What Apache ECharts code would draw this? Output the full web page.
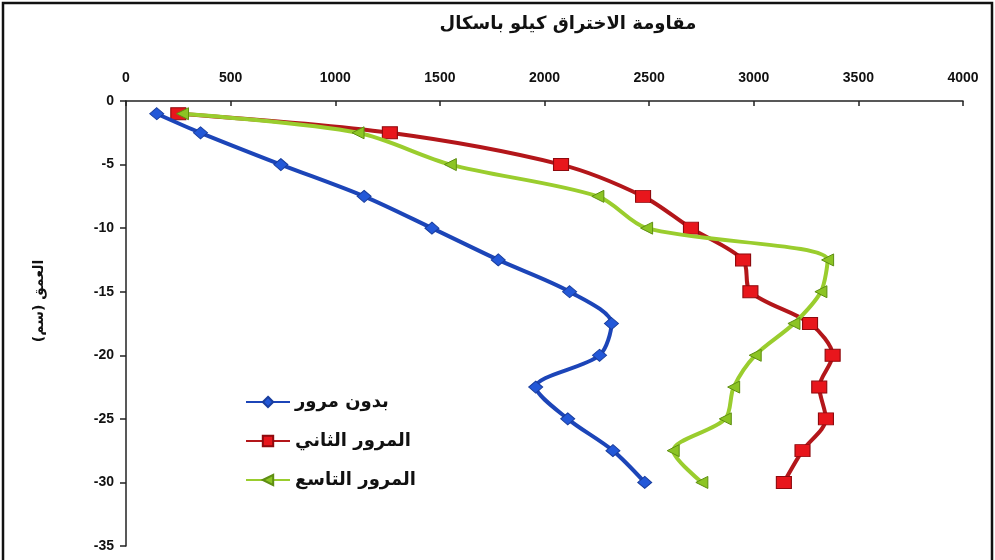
<!DOCTYPE html>
<html>
<head>
<meta charset="utf-8">
<script src="https://cdn.jsdelivr.net/npm/echarts@6/dist/echarts.min.js"></script>
<style>
  html, body { margin: 0; padding: 0; background: #fff; }
  #chart { width: 995px; height: 560px; }
</style>
</head>
<body>
<div id="chart"></div>
<script>
// Depth (cm), shared by all three series
const depths = [-1, -2.5, -5, -7.5, -10, -12.5, -15, -17.5, -20, -22.5, -25, -27.5, -30];

// Penetration resistance (kPa) for each traffic condition
const noTraffic   = [147, 356, 740, 1138, 1462, 1779, 2120, 2320, 2263, 1958, 2111, 2327, 2479];
const secondPass  = [250, 1261, 2079, 2471, 2700, 2949, 2984, 3269, 3377, 3313, 3345, 3233, 3144];
const ninthPass   = [270, 1109, 1550, 2255, 2488, 3353, 3321, 3192, 3007, 2904, 2864, 2615, 2752];

const seriesNames = ['بدون مرور', 'المرور الثاني', 'المرور التاسع'];
const titleText = 'مقاومة الاختراق كيلو باسكال';
const yAxisTitle = 'العمق (سم)';

const pairs = (xs) => xs.map((v, i) => [v, depths[i]]);

const chart = echarts.init(document.getElementById('chart'), null, { renderer: 'canvas' });

const font = 'Liberation Sans, Arial, sans-serif';
const arabicFont = 'DejaVu Sans, Noto Sans, sans-serif';

chart.setOption({
  backgroundColor: '#ffffff',
  animation: false,
  graphic: [
    {
      type: 'rect',
      shape: { x: 3, y: 3, width: 989, height: 600 },
      style: { fill: 'none', stroke: '#111', lineWidth: 2.5 },
      silent: true
    },
    {
      type: 'text',
      x: 568, y: 15,
      style: {
        text: titleText,
        font: 'bold 18px ' + arabicFont, fill: '#111', align: 'center'
      }
    }
  ],
  grid: { left: 126, right: 32, top: 101, bottom: 14, containLabel: false, outerBoundsMode: 'none' },
  legend: {
    orient: 'vertical',
    left: 240,
    top: 388,
    itemWidth: 44,
    itemHeight: 13,
    itemGap: 21,
    textStyle: { fontFamily: arabicFont, fontWeight: 'bold', fontSize: 18, color: '#111' },
    data: seriesNames
  },
  xAxis: {
    type: 'value',
    position: 'top',
    min: 0, max: 4000, interval: 500,
    axisLine: { show: true, lineStyle: { color: '#222', width: 1.5 } },
    axisTick: { show: true, inside: true, length: 5, lineStyle: { color: '#222', width: 1.5 } },
    axisLabel: {
      margin: 16, fontFamily: font, fontWeight: 'bold', fontSize: 14, color: '#111',
      formatter: (v) => String(v)
    },
    splitLine: { show: false }
  },
  yAxis: {
    type: 'value',
    min: -35, max: 0, interval: 5,
    name: yAxisTitle,
    nameLocation: 'middle',
    nameRotate: 90,
    nameGap: 80,
    nameTextStyle: { fontFamily: arabicFont, fontWeight: 'bold', fontSize: 14, color: '#111', padding: [0, 0, 0, 45] },
    axisLine: { show: true, onZero: false, lineStyle: { color: '#222', width: 1.5 } },
    axisTick: { show: true, length: 6, lineStyle: { color: '#222', width: 1.5 } },
    axisLabel: { margin: 12, fontFamily: font, fontWeight: 'bold', fontSize: 14, color: '#111' },
    splitLine: { show: false }
  },
  series: [
    {
      name: seriesNames[0],
      type: 'line',
      data: pairs(noTraffic),
      smooth: 0.3,
      symbol: 'diamond',
      symbolSize: [14, 12],
      lineStyle: { color: '#1C45B8', width: 4 },
      itemStyle: { color: '#2358D8', borderColor: '#1A3E9E', borderWidth: 1 },
      z: 3
    },
    {
      name: seriesNames[1],
      type: 'line',
      data: pairs(secondPass),
      smooth: 0.3,
      symbol: 'rect',
      symbolSize: [15, 12],
      lineStyle: { color: '#B3161A', width: 4 },
      itemStyle: { color: '#E8161C', borderColor: '#8E0A0E', borderWidth: 1 },
      z: 2
    },
    {
      name: seriesNames[2],
      type: 'line',
      data: pairs(ninthPass),
      smooth: 0.3,
      symbol: 'triangle',
      symbolRotate: 90,
      symbolSize: [12, 12],
      lineStyle: { color: '#9ACD2E', width: 4 },
      itemStyle: { color: '#8CC424', borderColor: '#5E8E12', borderWidth: 1 },
      z: 4
    }
  ]
});
</script>
</body>
</html>
